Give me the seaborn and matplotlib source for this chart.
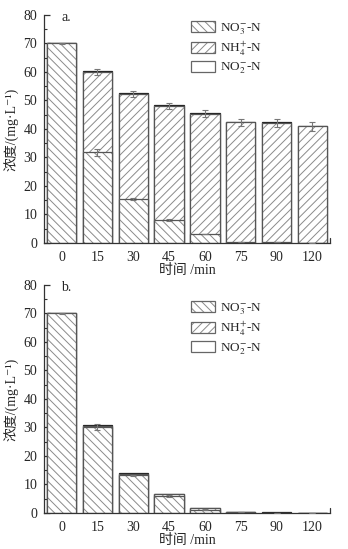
import numpy as np
import pandas as pd
import matplotlib
matplotlib.use("Agg")
import matplotlib.pyplot as plt
from matplotlib.patches import Patch
import seaborn as sns

times = ["0", "15", "30", "45", "60", "75", "90", "120"]

# Panel a
a_no3 = [70.0, 31.8, 15.5, 8.1, 3.2, 0.4, 0.3, 0.0]
a_nh4 = [0.0, 28.2, 36.8, 40.0, 42.1, 42.0, 41.85, 40.9]
a_no2 = [0.3, 0.3, 0.3, 0.3, 0.2, 0.2, 0.2, 0.15]
a_no3_err = [0.1, 1.3, 0.3, 0.3, 0.0, 0.0, 0.0, 0.0]
a_nh4_err = [0.0, 0.9, 1.0, 1.0, 1.2, 1.2, 1.4, 1.5]

# Panel b
b_no3 = [70.0, 30.2, 13.2, 6.0, 1.2, 0.3, 0.1, 0.05]
b_nh4 = [0.0, 0.4, 0.4, 0.5, 0.4, 0.1, 0.05, 0.0]
b_no2 = [0.3, 0.3, 0.3, 0.3, 0.2, 0.1, 0.05, 0.05]
b_no3_err = [0.1, 1.0, 0.3, 0.3, 0.2, 0.0, 0.0, 0.0]

yticks = [0, 10, 20, 30, 40, 50, 60, 70, 80]
legend_labels = [r"NO$_3^{-}$-N", r"NH$_4^{+}$-N", r"NO$_2^{-}$-N"]
ylabel = "浓度/(mg·L⁻¹)"
xlabel = "时间 /min"
panel_labels = ["a.", "b."]

sns.set_style("ticks")
plt.rcParams["font.family"] = ["Liberation Serif", "Noto Sans CJK SC", "DejaVu Sans"]
plt.rcParams["mathtext.fontset"] = "stix"
plt.rcParams["hatch.linewidth"] = 0.7
plt.rcParams["axes.unicode_minus"] = True

HATCH_C = "#8a8a8a"
EDGE_C = "#555555"
TOP_C = "#222222"
FS = 10
LFS = 9.5
W = 0.82

fig = plt.figure(figsize=(3.48, 5.49), dpi=100)
ax_a = fig.add_axes([0.1273, 0.5574, 0.821, 0.4153])
ax_b = fig.add_axes([0.1273, 0.0656, 0.821, 0.4153])


def draw(ax, no3, nh4, no2, no3_err, nh4_err, label, leg_y):
    df = pd.DataFrame({"time": times, "no3": no3, "nh4": nh4, "no2": no2})
    df["lvl1"] = df["no3"]
    df["lvl2"] = df["no3"] + df["nh4"]
    df["lvl3"] = df["lvl2"] + df["no2"]
    kw = dict(data=df, x="time", order=times, width=W, errorbar=None, ax=ax,
              saturation=1)
    # NO2 top layer (white)
    sns.barplot(y="lvl3", color="white", edgecolor=TOP_C, linewidth=0.9, **kw)
    # NH4 layer hatched
    sns.barplot(y="lvl2", color="white", edgecolor=HATCH_C, linewidth=0,
                hatch="////", **kw)
    sns.barplot(y="lvl2", fill=False, edgecolor=EDGE_C, linewidth=0.9, **kw)
    # NO3 layer hatched
    sns.barplot(y="lvl1", color="white", edgecolor=HATCH_C, linewidth=0,
                hatch="\\\\\\\\", **kw)
    sns.barplot(y="lvl1", fill=False, edgecolor=EDGE_C, linewidth=0.9, **kw)

    x = np.arange(len(times))
    if no3_err is not None:
        ax.errorbar(x, df["lvl1"], yerr=no3_err, fmt="none", ecolor="#777777",
                    elinewidth=0.8, capsize=2.3, capthick=0.8, zorder=5)
    if nh4_err is not None:
        m = np.array(nh4_err) > 0
        ax.errorbar(x[m], df["lvl2"][m], yerr=np.array(nh4_err)[m], fmt="none",
                    ecolor="#777777", elinewidth=0.8, capsize=2.3, capthick=0.8,
                    zorder=5)

    ax.set_xlim(-0.48, 7.49)
    ax.set_ylim(0, 80)
    ax.set_yticks(yticks)
    ax.set_yticks(np.arange(5, 80, 10), minor=True)
    ax.tick_params(axis="y", which="major", direction="in", length=4, width=0.9,
                   color="#333333", labelsize=FS, pad=5)
    ax.tick_params(axis="y", which="minor", direction="in", length=2, width=0.8,
                   color="#333333")
    ax.tick_params(axis="x", which="major", length=0, labelsize=FS, pad=6)
    for s in ["top", "right"]:
        ax.spines[s].set_visible(False)
    for s in ["left", "bottom"]:
        ax.spines[s].set_color("#333333")
        ax.spines[s].set_linewidth(0.9)
    ax.plot([1, 1], [0, 0.022], transform=ax.transAxes, color="#333333",
            lw=0.9, clip_on=False)
    ax.set_xlabel(xlabel, fontsize=FS, labelpad=0)
    ax.set_ylabel(ylabel, fontsize=FS, labelpad=2.5)
    ax.text(0.06, 0.99, label, transform=ax.transAxes, fontsize=FS,
            va="center", ha="left")

    handles = [Patch(facecolor="white", edgecolor=HATCH_C, hatch="\\\\\\\\", lw=0),
               Patch(facecolor="white", edgecolor=HATCH_C, hatch="////", lw=0),
               Patch(facecolor="white", edgecolor="#888888", lw=0.9)]
    leg = ax.legend(handles, legend_labels, loc="upper left",
                    bbox_to_anchor=(0.515, leg_y), frameon=False, fontsize=LFS,
                    handlelength=1.75, handleheight=0.95, handletextpad=0.4,
                    labelspacing=0.22, borderpad=0, borderaxespad=0)
    for p in leg.get_patches():
        p.set_linewidth(0.9)
        p.set_edgecolor("#666666")
    for p in leg.get_patches()[:2]:
        p._hatch_color = matplotlib.colors.to_rgba(HATCH_C)


draw(ax_a, a_no3, a_nh4, a_no2, a_no3_err, a_nh4_err, panel_labels[0], 0.975)
draw(ax_b, b_no3, b_nh4, b_no2, b_no3_err, None, panel_labels[1], 0.93)

fig.savefig("out.png", dpi=100)
